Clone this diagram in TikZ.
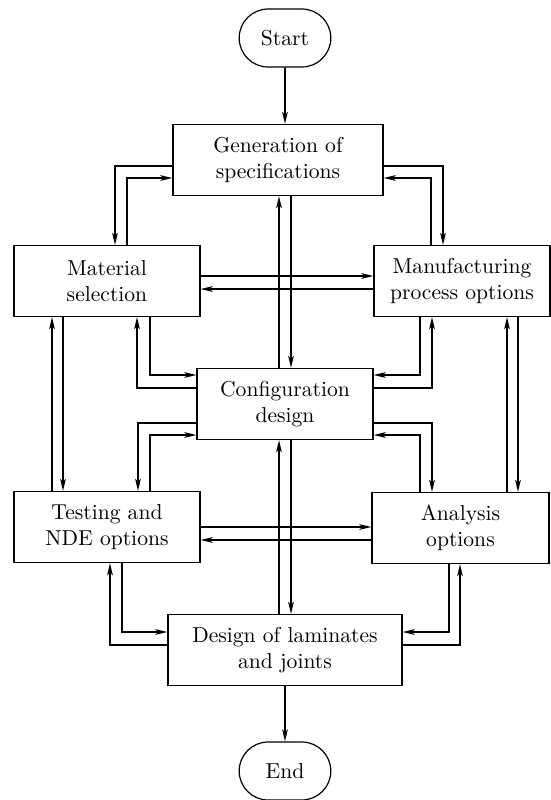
\documentclass[tikz,border=0pt]{standalone}
\usetikzlibrary{arrows.meta,shapes.misc}
\begin{document}
\begin{tikzpicture}
[x=0.5pt,y=-0.5pt,
 boxdecorate/.style={shape=rectangle,draw,line width=0.6pt,align=center,%
   minimum height=35.5pt,inner sep=2pt,font=\fontsize{10.8}{13}\selectfont},
 ovaldecorate/.style={shape=rounded rectangle,draw,line width=0.6pt,%
   minimum width=52.5pt,minimum height=29pt,font=\fontsize{10.8}{13}\selectfont},
 linedecorate/.style={-{Stealth[length=6pt,width=2.8pt,inset=1.5pt]},line width=0.9pt}]
\useasboundingbox (0,0) rectangle (551,800);
%% nodes or vertices
\node (start) at (285,38) [ovaldecorate] {Start};
\node (stop) at (285,771) [ovaldecorate] {End};
\foreach \nodename/\x/\y/\w/\nodetext in {gen/278/160/210/{Generation of\\specifications},
  mat/107/281/186/{Material\\selection}, man/462/281/176/{Manufacturing\\process options},
  conf/285/404/176/{Configuration\\design}, test/107/527/186/{Testing and\\NDE options},
  ana/460.5/528/177/{Analysis\\options}, des/285/650/234/{Design of laminates\\and joints}} {
  \node (\nodename) at (\x,\y) [boxdecorate,minimum width=\w*0.5pt] {\nodetext};
}
%% edges or lines
\draw[linedecorate] (start) -- (start |- gen.north);
\draw[linedecorate] (des.south) -- (des.south |- stop.north);
% vertical pairs
\foreach \lower/\upper/\up/\down in {conf/gen/-3/3, des/conf/-3/3,
  test/mat/-27.5/-22, ana/man/23.25/28.75} {
  \draw[linedecorate] ([xshift=\up pt]\lower.north) -- ([xshift=\up pt]\lower.north |- \upper.south);
  \draw[linedecorate] ([xshift=\down pt]\lower.north |- \upper.south) -- ([xshift=\down pt]\lower.north);
}
% horizontal pairs
\foreach \lft/\rgt/\toright/\toleft in {mat/man/2.5/-4, test/ana/0/-6.5} {
  \draw[linedecorate] ([yshift=\toright pt]\lft.east) -- ([yshift=\toright pt]\lft.east -| \rgt.west);
  \draw[linedecorate] ([yshift=\toleft pt]\lft.east -| \rgt.west) -- ([yshift=\toleft pt]\lft.east);
}
% bent pairs
\foreach \side/\other/\ya/\xa/\xb/\yb in {gen.west/mat.north/-3/4/10/-9,
  gen.east/man.north/-3/-9.5/-15.5/-9, conf.west/mat.south/8/15/21.5/14.5,
  conf.east/man.south/8/-15/-21/14.5, conf.west/test.north/-9.5/15.5/21.5/-15.5,
  conf.east/ana.north/-9.5/-14.25/-20.25/-15.5, des.west/test.south/2.5/1.5/7.5/9,
  des.east/ana.south/2.5/-0.25/-5.75/9} {
  \draw[linedecorate] ([yshift=\ya pt]\side) -| ([xshift=\xa pt]\other);
  \draw[linedecorate] ([xshift=\xb pt]\other) |- ([yshift=\yb pt]\side);
}
\end{tikzpicture}
\end{document}
